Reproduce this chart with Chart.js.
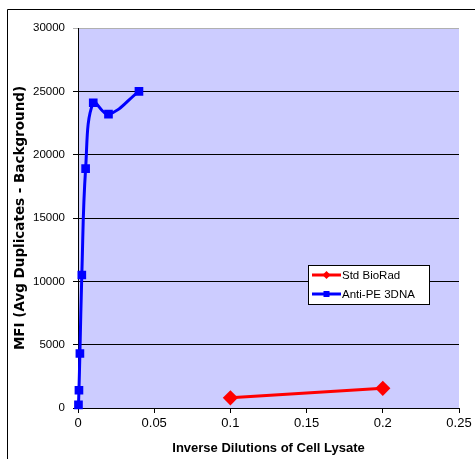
<!DOCTYPE html>
<html>
<head>
<meta charset="utf-8">
<script src="https://cdn.jsdelivr.net/npm/chart.js@4/dist/chart.umd.min.js"></script>
<style>
  html, body { margin: 0; padding: 0; background: #fff; }
  #wrap { position: relative; width: 475px; height: 459px; }
</style>
</head>
<body>
<div id="wrap"><canvas id="c" width="475" height="459"></canvas></div>
<script>
// ---- data ----
const stdX = [0.1, 0.2];
const stdY = [800, 1550];
const antiX = [0.0003125, 0.000625, 0.00125, 0.0025, 0.005, 0.01, 0.02, 0.04];
const antiY = [250, 1400, 4300, 10500, 18900, 24100, 23200, 25000];
const seriesNames = ['Std BioRad', 'Anti-PE 3DNA'];
const xTicks = [0, 0.05, 0.1, 0.15, 0.2, 0.25];
const yTicks = [0, 5000, 10000, 15000, 20000, 25000, 30000];
const xTitle = 'Inverse Dilutions of Cell Lysate';
const yTitle = 'MFI (Avg Duplicates - Background)';

const FONT = "'Liberation Sans', Arial, sans-serif";
const toPts = (xs, ys) => xs.map((x, i) => ({x: x, y: ys[i]}));

const bgPlugin = {
  id: 'bg',
  beforeDraw(chart) {
    const {ctx, chartArea: a} = chart;
    ctx.save();
    ctx.fillStyle = '#fff';
    ctx.fillRect(0, 0, chart.width, chart.height);
    ctx.strokeStyle = '#000';
    ctx.lineWidth = 1;
    ctx.beginPath();
    ctx.moveTo(7.5, chart.height + 5);
    ctx.lineTo(7.5, 9.5);
    ctx.lineTo(chart.width + 5, 9.5);
    ctx.stroke();
    ctx.fillStyle = '#CCCCFF';
    ctx.fillRect(a.left, a.top, a.right - a.left, a.bottom - a.top);
    ctx.restore();
  }
};

const legendPlugin = {
  id: 'boxLegend',
  afterDraw(chart) {
    const {ctx} = chart;
    const x0 = 308, y0 = 265, w = 121, h = 39;
    ctx.save();
    ctx.fillStyle = '#fff';
    ctx.fillRect(x0, y0, w, h);
    ctx.strokeStyle = '#000';
    ctx.lineWidth = 1;
    ctx.strokeRect(x0 + 0.5, y0 + 0.5, w, h);
    ctx.font = '11.5px ' + FONT;
    ctx.textBaseline = 'middle';
    chart.data.datasets.forEach((ds, i) => {
      const yy = y0 + 10 + i * 19;
      ctx.strokeStyle = ds.borderColor;
      ctx.lineWidth = 3;
      ctx.beginPath();
      ctx.moveTo(x0 + 4, yy);
      ctx.lineTo(x0 + 33, yy);
      ctx.stroke();
      ctx.fillStyle = ds.borderColor;
      const cx = x0 + 18.5;
      if (ds.pointStyle === 'rectRot') {
        ctx.beginPath();
        ctx.moveTo(cx, yy - 4); ctx.lineTo(cx + 4, yy); ctx.lineTo(cx, yy + 4); ctx.lineTo(cx - 4, yy);
        ctx.closePath(); ctx.fill();
      } else {
        ctx.fillRect(cx - 3, yy - 3, 6, 6);
      }
      ctx.fillStyle = '#000';
      ctx.fillText(ds.label, x0 + 34, yy + 0.5);
    });
    ctx.restore();
  }
};

new Chart(document.getElementById('c'), {
  type: 'scatter',
  data: {
    datasets: [
      {
        label: seriesNames[0],
        data: toPts(stdX, stdY),
        showLine: true,
        borderColor: '#FF0000',
        backgroundColor: '#FF0000',
        borderWidth: 3,
        pointStyle: 'rectRot',
        pointRadius: 5.5,
        pointHoverRadius: 5.5,
        clip: false
      },
      {
        label: seriesNames[1],
        data: toPts(antiX, antiY),
        showLine: true,
        borderColor: '#0000FF',
        backgroundColor: '#0000FF',
        borderWidth: 3,
        pointStyle: 'rect',
        pointRadius: 4,
        pointHoverRadius: 4,
        tension: 0.4,
        clip: false
      }
    ]
  },
  options: {
    responsive: false,
    animation: false,
    events: [],
    layout: { padding: { top: 28, right: 16, left: 0, bottom: 0 } },
    plugins: { legend: { display: false }, tooltip: { enabled: false } },
    scales: {
      x: {
        type: 'linear',
        min: 0, max: 0.25,
        afterBuildTicks(scale) { scale.ticks = xTicks.map(v => ({value: v})); },
        afterFit(scale) { scale.height = 51; },
        ticks: {
          color: '#000',
          font: { family: FONT, size: 13 },
          padding: 3,
          maxRotation: 0,
          callback: v => String(Number(v.toFixed(2)))
        },
        grid: {
          drawOnChartArea: false,
          drawTicks: true,
          tickLength: 5,
          color: '#000'
        },
        border: { display: true, color: '#000', width: 1 },
        title: {
          display: true,
          text: xTitle,
          color: '#000',
          font: { family: FONT, size: 13, weight: 'bold' },
          padding: { top: 0, bottom: 3 }
        }
      },
      y: {
        type: 'linear',
        min: 0, max: 30000,
        afterBuildTicks(scale) { scale.ticks = yTicks.map(v => ({value: v})); },
        afterFit(scale) { scale.width = 78; },
        ticks: {
          color: '#000',
          font: { family: FONT, size: 11.5 },
          padding: 8,
          callback: v => String(v)
        },
        grid: {
          drawOnChartArea: true,
          drawTicks: true,
          tickLength: 5,
          color: ctx => (ctx.tick && ctx.tick.value === 30000) ? '#B0B0B0' : '#000',
          lineWidth: 1
        },
        border: { display: true, color: '#000', width: 1 },
        title: {
          display: true,
          text: yTitle,
          color: '#000',
          font: { family: "'DejaVu Sans', sans-serif", size: 13.5, weight: 'bold' },
          padding: { top: 12, bottom: 0 }
        }
      }
    }
  },
  plugins: [bgPlugin, legendPlugin]
});
</script>
</body>
</html>
